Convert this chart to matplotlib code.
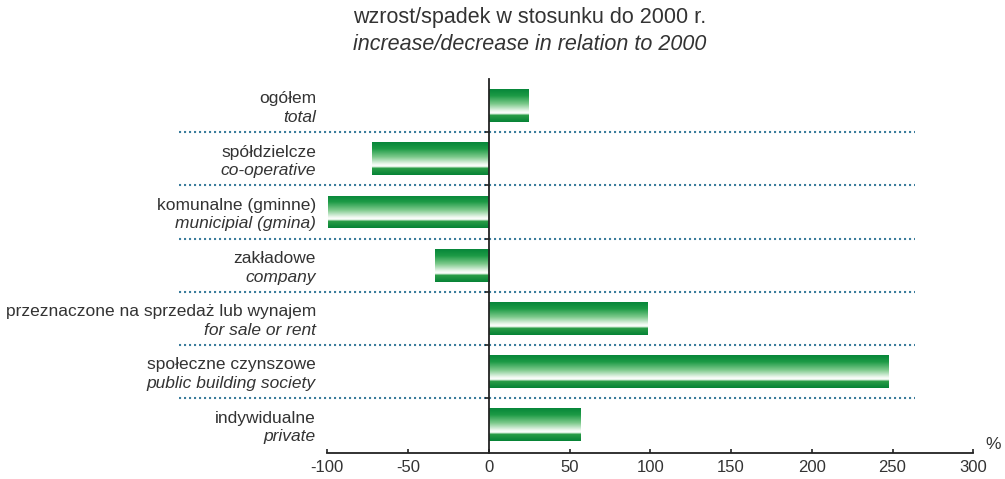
import numpy as np
import matplotlib
matplotlib.use("Agg")
import matplotlib.pyplot as plt
from matplotlib.colors import LinearSegmentedColormap

plt.rcParams['font.family'] = ['Liberation Sans', 'DejaVu Sans']

labels_pl = ['ogółem', 'spółdzielcze', 'komunalne (gminne)', 'zakładowe',
             'przeznaczone na sprzedaż lub wynajem', 'społeczne czynszowe', 'indywidualne']
labels_en = ['total', 'co-operative', 'municipial (gmina)', 'company',
             'for sale or rent', 'public building society', 'private']
values = [24.7, -72.1, -99.5, -33.6, 97.9, 247.5, 56.7]
xticks = [-100, -50, 0, 50, 100, 150, 200, 250, 300]

txt = '#333333'
green = LinearSegmentedColormap.from_list('g', [
    (0.0, '#07863a'), (0.2, '#1c9a45'), (0.45, '#7cc98b'), (0.66, '#e9f6ea'),
    (0.72, '#ffffff'), (0.76, '#cfead3'), (0.79, '#2a9d47'), (1.0, '#078336')])

fig = plt.figure(figsize=(10.05, 4.79), dpi=100)
ax = fig.add_axes([327.3 / 1005, 26 / 479, 646 / 1005, 374 / 479])

ypos = np.arange(len(values))
h = 0.62
bars = ax.barh(ypos, values, height=h, color='#1c9a45', linewidth=0, zorder=2)
grad = np.linspace(0, 1, 200).reshape(-1, 1)
for b, y, v in zip(bars, ypos, values):
    im = ax.imshow(grad, cmap=green, aspect='auto', zorder=3,
                   extent=[min(0, v), max(0, v), y + h / 2, y - h / 2])
    im.set_clip_path(b)

# separators
for s in ypos[:-1] + 0.5:
    ax.plot([-192, 264], [s, s], color='#3b7c9c', lw=1.5, ls=(0, (1, 1.4)),
            clip_on=False, zorder=1)

ax.set_xlim(-100, 300)
ax.set_ylim(6.53, -0.5)
ax.spines['top'].set_visible(False)
ax.spines['right'].set_visible(False)
ax.spines['left'].set_position(('data', 0))
ax.spines['left'].set_zorder(5)
for sp in ('left', 'bottom'):
    ax.spines[sp].set_color('#222222')
    ax.spines[sp].set_linewidth(1.3)

ax.set_xticks(xticks)
ax.set_xticklabels([str(t) for t in xticks])
ax.tick_params(axis='x', direction='in', length=3, width=1.2, color='#222222',
               labelsize=12, labelcolor=txt, pad=5)
ax.set_yticks(ypos[:-1] + 0.5)
ax.set_yticklabels([])
ax.tick_params(axis='y', direction='out', length=3, width=1.2, color='#222222')

tr = matplotlib.transforms.blended_transform_factory(fig.transFigure, ax.transData)
for y, pl, en in zip(ypos, labels_pl, labels_en):
    ax.text(316 / 1005, y - 0.04, pl, transform=tr, ha='right', va='baseline',
            fontsize=12.5, color=txt)
    ax.text(316 / 1005, y + 0.31, en, transform=tr, ha='right', va='baseline',
            fontsize=12.5, color=txt, style='italic')

ax.annotate('%', xy=(1, 0), xycoords='axes fraction', xytext=(14, 1),
            textcoords='offset points', ha='center', va='bottom', fontsize=12.5, color=txt)

fig.text(530 / 1005, 1 - 18 / 479, 'wzrost/spadek w stosunku do 2000 r.', ha='center',
         va='center', fontsize=15.5, color=txt)
fig.text(530 / 1005, 1 - 44 / 479, 'increase/decrease in relation to 2000', ha='center',
         va='center', fontsize=15.5, color=txt, style='italic')

fig.savefig('out.png', dpi=100)
